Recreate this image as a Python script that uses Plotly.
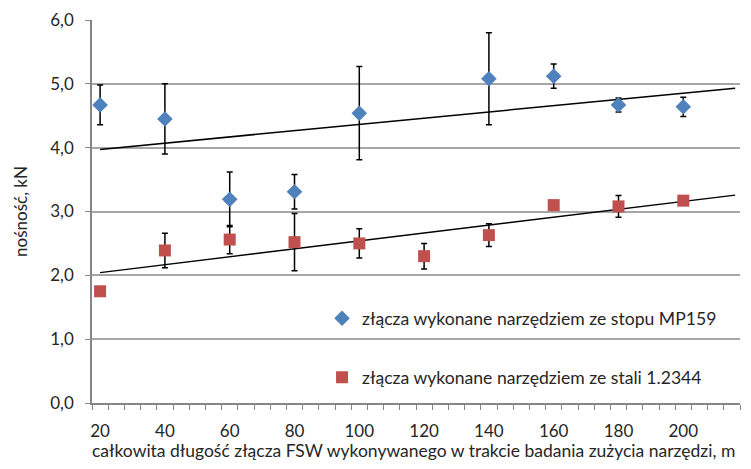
import numpy as np
import plotly.graph_objects as go

# data
x_mp159 = [20, 40, 60, 80, 100, 140, 160, 180, 200]
y_mp159 = [4.67, 4.45, 3.19, 3.31, 4.54, 5.08, 5.12, 4.67, 4.64]
err_mp159 = [0.31, 0.55, 0.43, 0.27, 0.73, 0.72, 0.19, 0.11, 0.15]

x_stal = [20, 40, 60, 80, 100, 120, 140, 160, 180, 200]
y_stal = [1.75, 2.39, 2.56, 2.52, 2.50, 2.30, 2.63, 3.10, 3.08, 3.17]
err_stal = [0.0, 0.27, 0.22, 0.45, 0.23, 0.20, 0.18, 0.07, 0.17, 0.0]

name_mp159 = "złącza wykonane narzędziem ze stopu MP159"
name_stal = "złącza wykonane narzędziem ze stali 1.2344"
x_title = "całkowita długość złącza FSW wykonywanego w trakcie badania zużycia narzędzi, m"
y_title = "nośność, kN"
x_ticks = [20, 40, 60, 80, 100, 120, 140, 160, 180, 200]
y_ticks = [0, 1, 2, 3, 4, 5, 6]
forecast_end = 216

FONT = "Lato"
TXT = "#262626"

def trend(xs, ys):
    k, b = np.polyfit(xs, ys, 1)
    xx = np.array([min(xs), forecast_end], dtype=float)
    return xx, k * xx + b

fig = go.Figure()
for xs, ys in [(x_mp159, y_mp159), (x_stal, y_stal)]:
    tx, ty = trend(xs, ys)
    fig.add_trace(go.Scatter(x=tx, y=ty, mode="lines", showlegend=False,
                             line=dict(color="black", width=1.5), hoverinfo="skip"))

fig.add_trace(go.Scatter(
    x=x_mp159, y=y_mp159, mode="markers", name=name_mp159, legendgroup="a",
    marker=dict(symbol="diamond", size=12, color="#4F81BD"),
    error_y=dict(type="data", array=err_mp159, color="black", thickness=1.5, width=3)))
fig.add_trace(go.Scatter(
    x=x_stal, y=y_stal, mode="markers", name=name_stal, legendgroup="b",
    marker=dict(symbol="square", size=12, color="#C0504D"),
    error_y=dict(type="data", array=err_stal, color="black", thickness=1.5, width=3)))

fig.update_layout(
    width=751, height=469,
    margin=dict(l=92, r=11, t=20, b=66),
    paper_bgcolor="white", plot_bgcolor="white",
    separators=", ",
    font=dict(family=FONT, size=17, color=TXT),
    showlegend=True,
    legend=dict(x=0.355, y=0.268, xanchor="left", yanchor="top",
                bgcolor="rgba(0,0,0,0)", font=dict(size=17.6, color=TXT),
                tracegroupgap=33, traceorder="grouped"),
    xaxis=dict(range=[17.5, 217.5], tickvals=x_ticks, ticks="", showgrid=False,
               showline=True, linecolor="#868686", linewidth=1.5, zeroline=False,
               ticklabelstandoff=12, automargin=False,
               tickfont=dict(size=17, color=TXT),
               minor=dict(tick0=17.5, dtick=5, ticks="outside", ticklen=5,
                          tickcolor="#868686", tickwidth=1, showgrid=False)),
    yaxis=dict(range=[0, 6], tickvals=y_ticks, tickformat=".1f", ticks="outside",
               ticklen=5, tickcolor="#868686", showgrid=True, gridcolor="#A6A6A6",
               gridwidth=1.5, showline=True, linecolor="#868686", linewidth=1.5,
               zeroline=False, tickfont=dict(size=17, color=TXT), automargin=False,
               ticklabelstandoff=8,
               title=dict(text=y_title, font=dict(size=17, color=TXT), standoff=18)),
)
fig.add_annotation(text=x_title, xref="paper", yref="paper", x=-0.003, y=-0.125,
                   xanchor="left", yanchor="middle", showarrow=False,
                   font=dict(size=17.5, color=TXT))

fig.write_html("out.html", config={"displayModeBar": False},
               post_script="document.body.style.margin='0';")
